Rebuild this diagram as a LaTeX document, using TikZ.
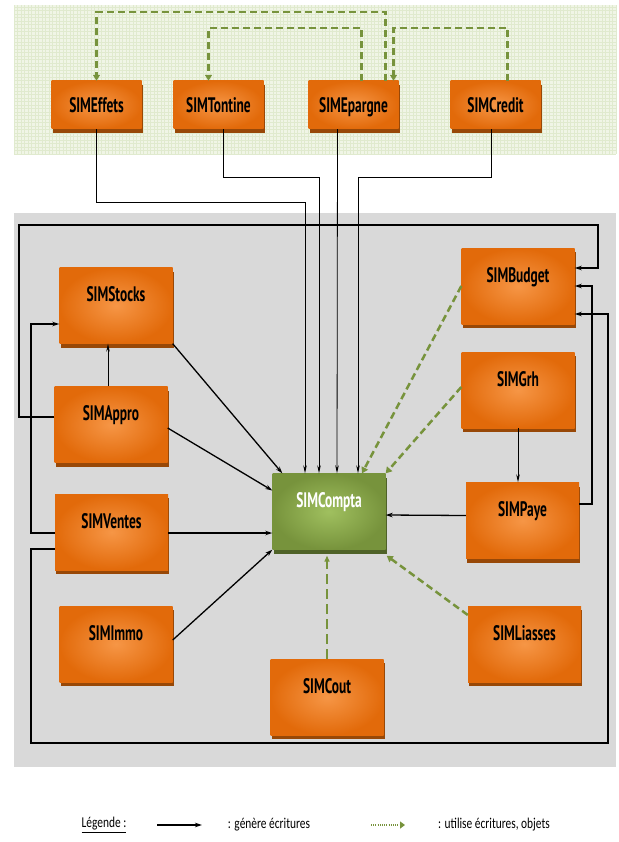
\documentclass[tikz,border=0pt]{standalone}
\usepackage{fontspec}
\usepackage{tikz}
\usetikzlibrary{arrows.meta, shadows, calc}
\newfontfamily\boxfont[FakeStretch=0.64]{PT Sans}
\newfontfamily\legfont[FakeStretch=0.76]{Carlito}
\definecolor{orangelight}{RGB}{246,150,70}
\definecolor{orangedark}{RGB}{226,106,10}
\definecolor{orangeshadow}{RGB}{152,72,7}
\definecolor{comptalight}{RGB}{160,192,95}
\definecolor{comptadark}{RGB}{119,147,60}
\definecolor{comptashadow}{RGB}{79,98,40}
\definecolor{usegreen}{RGB}{119,147,60}
\definecolor{panelgray}{RGB}{217,217,217}
\definecolor{bandgreen}{RGB}{240,245,230}
\definecolor{gridgreen}{RGB}{224,234,206}

\begin{document}
\begin{tikzpicture}[x=1pt, y=-1pt,
    boxbase/.style={rectangle, inner sep=0pt, minimum width=113pt, minimum height=76pt,
      font=\boxfont\bfseries\fontsize{21}{23}\selectfont, text height=15pt, text depth=23pt},
    module/.style={boxbase, shading=radial, inner color=orangelight, outer color=orangedark,
      general shadow={fill=orangeshadow, shadow yshift=-4pt, shadow xshift=1pt}},
    topmodule/.style={module, minimum width=90pt, minimum height=48pt, text depth=0pt},
    comptabox/.style={boxbase, shading=radial, inner color=comptalight, outer color=comptadark, text=white,
      general shadow={fill=comptashadow, shadow yshift=-4pt, shadow xshift=1pt}},
    genline/.style={-{Stealth[length=7pt,width=4.5pt]}, line width=1.3pt},
    genthin/.style={-{Stealth[length=8pt,width=3.5pt]}, line width=0.8pt},
    genloop/.style={genline, line width=2.3pt},
    useline/.style={usegreen, line width=2.5pt, dash pattern=on 7pt off 4pt, -{Triangle[length=6pt,width=7pt]}},
    usethin/.style={usegreen, line width=1.4pt, dash pattern=on 10pt off 5pt, -{Triangle[length=6pt,width=5pt]}},
    legend/.style={font=\legfont\fontsize{15}{17}\selectfont, inner sep=0pt}]
    \useasboundingbox (0,0) rectangle (618,842);
    \fill[bandgreen] (14,5) rectangle (616,154);
    \draw[gridgreen, line width=0.3pt, step=3.5pt] (14,5) grid (616,154);
    \fill[panelgray] (14,213) rectangle (616,767);

    \node[topmodule] (effets) at (96.5,105) {SIMEffets};
    \node[topmodule] (tontine) at (218.5,105) {SIMTontine};
    \node[topmodule] (epargne) at (353.5,105) {SIMEpargne};
    \node[topmodule] (credit) at (495.5,105) {SIMCredit};

    \node[module] (stocks) at (116,305.5) {SIMStocks};
    \node[module] (appro) at (111,424.5) {SIMAppro};
    \node[module] (ventes) at (111.5,532) {SIMVentes};
    \node[module] (immo) at (116,644) {SIMImmo};
    \node[module] (cout) at (327,697) {SIMCout};
    \node[module] (liasses) at (524.5,644) {SIMLiasses};
    \node[module] (paye) at (522.5,520.5) {SIMPaye};
    \node[module] (budget) at (518,286) {SIMBudget};
    \node[module] (grh) at (518,390) {SIMGrh};
    \node[comptabox] (compta) at (329,511.5) {SIMCompta};

    \draw[useline] ([xshift=32pt]epargne.north) -- ++(0,-69) -| (effets.north);
    \draw[useline] ([xshift=8pt]epargne.north) -- ++(0,-53) -| ([xshift=-10pt]tontine.north);
    \draw[useline] ([xshift=12pt]credit.north) -- ++(0,-53) -| ([xshift=40pt]epargne.north);

    \draw[genloop] ([yshift=7.5pt]appro.west) -- ++(-35,0) |- (598,225) |- ([yshift=18pt]budget.east);
    \draw[genloop] ([yshift=-1pt]ventes.west) -- ++(-24,0) |- ([yshift=-18.5pt]stocks.west);
    \draw[genloop] ([yshift=-17pt]ventes.west) -- ++(-24,0) |- (608,743) |- ([yshift=-28pt]budget.east);
    \draw[genline, line width=1.8pt] ([yshift=16.5pt]paye.east) -- ++(13,0) |- (budget.east);

    \draw[genthin] (effets.south) -- ++(0,73) -| ([xshift=-24pt]compta.north);
    \draw[genthin] ([xshift=5pt]tontine.south) -- ++(0,48) -| ([xshift=-10pt]compta.north);
    \draw[genthin] ([xshift=-16pt]epargne.south) -- ([xshift=8pt]compta.north);
    \draw[genthin] ([xshift=-4pt]credit.south) -- ++(0,48) -| ([xshift=29pt]compta.north);

    \draw[genthin] ([xshift=-3pt]appro.north) -- ([xshift=-3pt]appro.north |- stocks.south);
    \draw[genthin] (grh.south) -- (grh.south |- paye.north);

    \draw[genline] (stocks.south east) -- ([xshift=10pt]compta.north west);
    \draw[genline] ([yshift=-3.5pt]appro.east) -- ([yshift=21pt]compta.west);
    \draw[genline] ([yshift=-1pt]ventes.east) -- ([yshift=-21.5pt]compta.west);
    \draw[genline] ([yshift=4pt]immo.east) -- (compta.south west);
    \draw[genline] ([yshift=5pt]paye.west) -- ([yshift=-3.5pt]compta.east);

    \draw[useline] (budget.west) -- ([xshift=33pt]compta.north);
    \draw[useline] ([yshift=3pt]grh.west) -- (compta.north east);
    \draw[useline] ([yshift=29pt]liasses.west) -- ([xshift=1pt,yshift=-6pt]compta.south east);
    \draw[usethin] (cout.north) -- ([yshift=-6pt]cout.north |- compta.south);

    \node[legend] (legtitle) at (104,825) {\underline{Légende :}};
    \coordinate (genA) at (157,825);
    \coordinate (genB) at (202,825);
    \draw[genline, line width=2pt] (genA) -- (genB);
    \node[legend] (gentext) at (269,825) {: génère écritures};
    \coordinate (useA) at (371,825);
    \coordinate (useB) at (405,825);
    \draw[usegreen, line width=2.5pt, dash pattern=on 1pt off 1.2pt, -{Triangle[length=5pt,width=7pt]}] (useA) -- (useB);
    \node[legend] (usetext) at (494,825) {: utilise écritures, objets};
\end{tikzpicture}
\end{document}
